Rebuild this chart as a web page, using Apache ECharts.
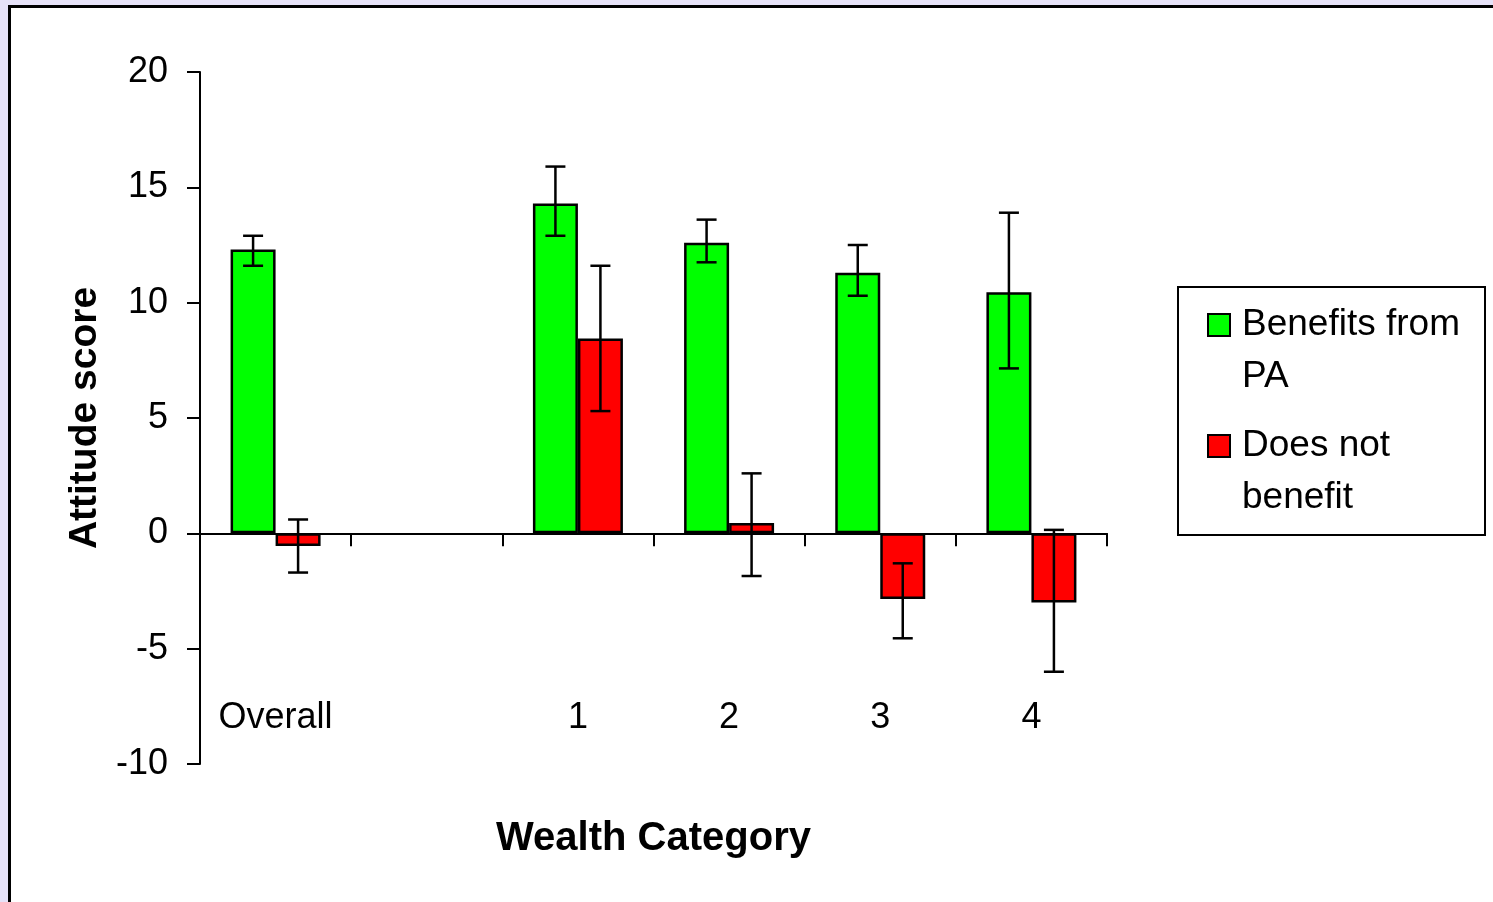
<!DOCTYPE html>
<html>
<head>
<meta charset="utf-8">
<script src="https://cdn.jsdelivr.net/npm/echarts@6/dist/echarts.min.js"></script>
<style>
html,body{margin:0;padding:0;background:#e6e2f8;}
#chart{width:1493px;height:902px;}
</style>
</head>
<body>
<div id="chart"></div>
<script>
// categories (empty slot between Overall and 1)
var categories = ['Overall', '', '1', '2', '3', '4'];
var benefitMean = [12.3, '-', 14.3, 12.6, 11.3, 10.45];
var benefitLow  = [11.6, '-', 12.9, 11.75, 10.3, 7.15];
var benefitHigh = [12.9, '-', 15.9, 13.6, 12.5, 13.9];
var noBenefitMean = [-0.55, '-', 8.45, 0.45, -2.85, -3.0];
var noBenefitLow  = [-1.7, '-', 5.3, -1.85, -4.55, -6.0];
var noBenefitHigh = [0.6, '-', 11.6, 2.6, -1.3, 0.15];
var yTicks = [-10, 20, 5];

var FONT = '"Liberation Sans", Arial, sans-serif';
var BAR_W = 45;

var errData = function(low, high){
    var out = [];
    for (var i = 0; i < low.length; i++) {
        if (low[i] === '-') continue;
        out.push([i, low[i], high[i]]);
    }
    return out;
};

var errSeries = function(name, low, high, side){
    return {
        type: 'custom',
        name: name + ' err',
        z: 5,
        data: errData(low, high),
        encode: {x: 0, y: [1, 2]},
        renderItem: function(params, api){
            var i = api.value(0);
            var p1 = api.coord([i, api.value(1)]);
            var p2 = api.coord([i, api.value(2)]);
            var x = p1[0] + side * BAR_W / 2;
            var cap = 10;
            var st = {stroke: '#000', lineWidth: 2.5};
            return {
                type: 'group',
                children: [
                    {type: 'line', shape: {x1: x, y1: p1[1], x2: x, y2: p2[1]}, style: st},
                    {type: 'line', shape: {x1: x - cap, y1: p1[1], x2: x + cap, y2: p1[1]}, style: st},
                    {type: 'line', shape: {x1: x - cap, y1: p2[1], x2: x + cap, y2: p2[1]}, style: st}
                ]
            };
        }
    };
};

var chart = echarts.init(document.getElementById('chart'));

// blank first line keeps the marker beside the first text line
var legendFmt = function(name){ return ' \n' + name; };
var legendText = {
    fontFamily: FONT,
    fontSize: 37,
    color: '#000',
    lineHeight: 52,
    padding: [0, 0, 0, 7]
};

chart.setOption({
    backgroundColor: '#e6e2f8',
    animation: false,
    graphic: [{
        type: 'rect',
        z: -10,
        shape: {x: 9.5, y: 6.5, width: 1500, height: 920},
        style: {fill: '#fff', stroke: '#000', lineWidth: 3}
    }, {
        type: 'rect',
        z: -5,
        shape: {x: 1178, y: 287, width: 307, height: 248},
        style: {fill: '#fff', stroke: '#000', lineWidth: 2}
    }],
    legend: [{
        data: [{name: 'Benefits from\nPA', icon: 'rect'}],
        formatter: legendFmt,
        left: 1207,
        top: 247,
        padding: 0,
        itemWidth: 22,
        itemHeight: 22,
        selectedMode: false,
        textStyle: legendText
    }, {
        data: [{name: 'Does not\nbenefit', icon: 'rect'}],
        formatter: legendFmt,
        left: 1207,
        top: 368,
        padding: 0,
        itemWidth: 22,
        itemHeight: 22,
        selectedMode: false,
        textStyle: legendText
    }],
    grid: {left: 200, right: 386, top: 72, bottom: 138, containLabel: false, outerBoundsMode: 'none'},
    xAxis: {
        type: 'category',
        data: categories,
        name: 'Wealth Category',
        nameLocation: 'middle',
        nameGap: 55,
        nameTextStyle: {fontFamily: FONT, fontSize: 40, fontWeight: 'bold', color: '#000'},
        axisLine: {onZero: true, lineStyle: {color: '#000', width: 2}},
        axisTick: {show: true, length: 13, lineStyle: {color: '#000', width: 2}},
        axisLabel: {interval: 0, margin: -64, fontFamily: FONT, fontSize: 36, color: '#000'},
        splitLine: {show: false}
    },
    yAxis: {
        type: 'value',
        min: yTicks[0],
        max: yTicks[1],
        interval: yTicks[2],
        name: 'Attitude score',
        nameLocation: 'middle',
        nameRotate: 90,
        nameGap: 95,
        nameTextStyle: {fontFamily: FONT, fontSize: 39, fontWeight: 'bold', color: '#000'},
        axisLine: {show: true, lineStyle: {color: '#000', width: 2}},
        axisTick: {show: true, length: 13, lineStyle: {color: '#000', width: 2}},
        axisLabel: {margin: 32, fontFamily: FONT, fontSize: 36, color: '#000'},
        splitLine: {show: false}
    },
    series: [{
        type: 'bar',
        name: 'Benefits from\nPA',
        data: benefitMean,
        barWidth: BAR_W,
        barGap: '0%',
        itemStyle: {color: '#00ff00', borderColor: '#000', borderWidth: 2.5}
    }, {
        type: 'bar',
        name: 'Does not\nbenefit',
        data: noBenefitMean,
        barWidth: BAR_W,
        barGap: '0%',
        itemStyle: {color: '#ff0000', borderColor: '#000', borderWidth: 2.5}
    },
    errSeries('benefit', benefitLow, benefitHigh, -1),
    errSeries('nobenefit', noBenefitLow, noBenefitHigh, 1)
    ]
});
</script>
</body>
</html>
